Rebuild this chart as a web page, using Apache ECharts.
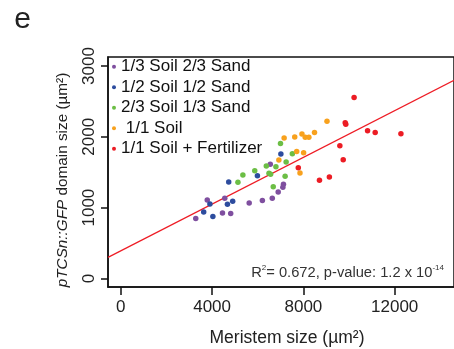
<!DOCTYPE html>
<html>
<head>
<meta charset="utf-8">
<script src="https://cdn.jsdelivr.net/npm/echarts@6/dist/echarts.min.js"></script>
<style>
  html, body { margin: 0; padding: 0; background: #fff; }
  #main { width: 454px; height: 349px; }
</style>
</head>
<body>
<div id="main"></div>
<script>
// groups (legend order) and colours
const groupNames = ['1/3 Soil 2/3 Sand', '1/2 Soil 1/2 Sand', '2/3 Soil 1/3 Sand', ' 1/1 Soil', '1/1 Soil + Fertilizer'];
const groupColors = ['#7f4f9f', '#2d4c9e', '#6cbe45', '#f8a11d', '#ec1c24'];

// [meristem size, pTCSn::GFP domain size]
const soil13 = [[6549, 1611], [7126, 1330], [7100, 1287], [6896, 1221], [6636, 1132], [6202, 1099],
  [5625, 1066], [3786, 1108], [4554, 1132], [4454, 925], [4814, 916], [3283, 845]];
const soil12 = [[7013, 1756], [5985, 1451], [4727, 1362], [4901, 1090], [4671, 1048], [3903, 1052],
  [3630, 939], [4033, 873]];
const soil23 = [[6996, 1907], [7516, 1761], [7243, 1644], [6796, 1578], [6375, 1587], [5868, 1521],
  [5348, 1461], [5131, 1358], [6492, 1485], [6562, 1470], [7199, 1442], [6679, 1296]];
const soil11 = [[9034, 2221], [8487, 2062], [7937, 2038], [8080, 1992], [8240, 1992], [7620, 1996],
  [7156, 1982], [7707, 1794], [8010, 1775], [6926, 1672], [7850, 1489]];
const soilFert = [[10222, 2555], [9832, 2197], [9858, 2179], [10812, 2085], [11146, 2062], [12274, 2042],
  [9598, 1873], [9745, 1676], [7776, 1563], [9138, 1432], [8704, 1386]];

// fitted regression line end points
const regLine = [[-563, 297], [14600, 2799]];

const xTicks = [0, 4000, 8000, 12000];
const yTicks = [0, 1000, 2000, 3000];

const font = 'Liberation Sans, Arial, sans-serif';
const groups = [soil13, soil12, soil23, soil11, soilFert];

let series = groups.map((d, i) => ({
  name: groupNames[i],
  type: 'scatter',
  data: d,
  symbolSize: 5.5,
  itemStyle: { color: groupColors[i], opacity: 1 },
  z: 3
}));
series.push({
  type: 'line',
  data: regLine,
  symbol: 'none',
  silent: true,
  lineStyle: { color: '#ee1c25', width: 1.2 },
  z: 2
});

let chart = echarts.init(document.getElementById('main'));
chart.setOption({
  animation: false,
  textStyle: { fontFamily: font },
  grid: {
    left: 108, top: 57, bottom: 62, right: -4,
    show: true, borderColor: '#111', borderWidth: 1.5
  },
  legend: {
    data: groupNames,
    orient: 'vertical',
    left: 112, top: 57,
    padding: 0,
    icon: 'circle',
    itemWidth: 4, itemHeight: 4,
    itemGap: 1,
    textStyle: { fontSize: 17, lineHeight: 19.5, color: '#111', fontFamily: font }
  },
  xAxis: {
    type: 'value', min: -563, max: 14600,
    axisLine: { show: true, onZero: false, lineStyle: { color: '#111', width: 1.5 } },
    splitLine: { show: false },
    axisTick: { show: true, length: 8, customValues: xTicks, lineStyle: { color: '#111', width: 1.5 } },
    axisLabel: { customValues: xTicks, margin: 12, fontSize: 17, color: '#222', fontFamily: font,
      formatter: v => String(v) }
  },
  yAxis: {
    type: 'value', min: -121, max: 3127,
    axisLine: { show: true, onZero: false, lineStyle: { color: '#111', width: 1.5 } },
    splitLine: { show: false },
    axisTick: { show: true, length: 7, customValues: yTicks, lineStyle: { color: '#111', width: 1.5 } },
    axisLabel: { customValues: yTicks, rotate: 90, margin: 10, fontSize: 17, color: '#222', fontFamily: font,
      formatter: v => String(v) }
  },
  graphic: [
    {
      type: 'text', x: 22.5, y: 19.5,
      style: { text: 'e', fontSize: 30, fill: '#222', fontFamily: font, align: 'center', verticalAlign: 'middle' }
    },
    {
      type: 'text', x: 287, y: 338,
      style: { text: 'Meristem size (µm²)', fontSize: 17.5, fill: '#222', fontFamily: font,
        align: 'center', verticalAlign: 'middle' }
    },
    {
      type: 'text', x: 63, y: 180, rotation: Math.PI / 2,
      style: {
        text: '{i|pTCSn::GFP} domain size (µm²)',
        fontSize: 15.3, fill: '#222', fontFamily: font,
        align: 'center', verticalAlign: 'middle',
        rich: { i: { fontStyle: 'italic', fontSize: 15.3, fontFamily: font, fill: '#222' } }
      }
    },
    {
      type: 'text', x: 444, y: 273,
      style: {
        text: 'R{s|2}= 0.672, p-value: 1.2 x 10{s|-14}',
        fontSize: 14.7, fill: '#333', fontFamily: font,
        align: 'right', verticalAlign: 'middle',
        rich: { s: { fontSize: 8, verticalAlign: 'top', padding: [0, 0, 10, 0], fill: '#333', fontFamily: font } }
      }
    }
  ],
  series: series
});
</script>
</body>
</html>
